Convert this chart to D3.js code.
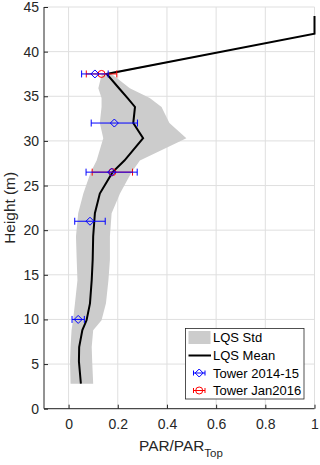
<!DOCTYPE html>
<html lang="en">
<head>
  <meta charset="UTF-8">
  <title>PAR profile</title>
  <style>
    body { margin: 0; background: #fff; font-family: Arial, 'Liberation Sans', sans-serif; }
  </style>
  <script src="https://d3js.org/d3.v7.min.js"></script>
</head>
<body>
<script>
  // LQS profile (height in m, PAR/PAR_top mean and the std envelope)
  const heights = [2.8, 5.3, 6.9, 8.8, 9.9, 11.8, 14.4, 16.7, 19.3, 21.9, 24.1, 26.5, 27.8, 30.3, 32.0, 33.8, 34.8, 35.9, 37.5, 42, 44];
  const lqsMean = [0.050, 0.042, 0.043, 0.056, 0.073, 0.087, 0.094, 0.098, 0.100, 0.107, 0.127, 0.179, 0.227, 0.303, 0.263, 0.270, 0.240, 0.205, 0.155, 1.0, 1.0];
  const lqsLow  = [0.008, 0.006, 0.008, 0.012, 0.018, 0.026, 0.036, 0.033, 0.030, 0.039, 0.060, 0.090, 0.114, 0.141, 0.127, 0.134, 0.134, 0.121, 0.135, 1.0, 1.0];
  const lqsHigh = [0.100, 0.096, 0.094, 0.100, 0.134, 0.152, 0.162, 0.168, 0.168, 0.175, 0.209, 0.256, 0.290, 0.479, 0.410, 0.378, 0.330, 0.249, 0.175, 1.0, 1.0];

  // tower measurements
  const towerHeights = [37.5, 32, 26.5, 21, 10];
  const towerMean = [0.107, 0.186, 0.175, 0.087, 0.039];
  const towerErr  = [0.054, 0.094, 0.104, 0.062, 0.025];

  const janHeights = [37.5, 26.5];
  const janMean = [0.134, 0.178];
  const janErr  = [0.062, 0.082];

  const xTicks = [0, 0.2, 0.4, 0.6, 0.8, 1];
  const yTicks = [0, 5, 10, 15, 20, 25, 30, 35, 40, 45];
  const legendLabels = ["LQS Std", "LQS Mean", "Tower 2014-15", "Tower Jan2016"];

  const W = 320, H = 465;
  const axisColor = "#262626";

  const svg = d3.select("body").append("svg")
    .attr("width", W)
    .attr("height", H);

  const x = d3.scaleLinear().domain([-0.1, 1]).range([44, 314.5]);
  const y = d3.scaleLinear().domain([0, 45]).range([408.7, 7]);

  // grid
  svg.append("g").selectAll("line.gx")
    .data(xTicks).enter().append("line")
    .attr("x1", d => x(d)).attr("x2", d => x(d))
    .attr("y1", y(0)).attr("y2", y(45))
    .attr("stroke", "#dfdfdf").attr("stroke-width", 1);
  svg.append("g").selectAll("line.gy")
    .data(yTicks).enter().append("line")
    .attr("x1", x(-0.1)).attr("x2", x(1))
    .attr("y1", d => y(d)).attr("y2", d => y(d))
    .attr("stroke", "#dfdfdf").attr("stroke-width", 1);

  const rows = heights.map((h, i) => ({ h: h, m: lqsMean[i], lo: lqsLow[i], hi: lqsHigh[i] }));

  // std band
  const area = d3.area()
    .y(d => y(d.h))
    .x0(d => x(d.lo))
    .x1(d => x(d.hi));
  svg.append("path")
    .datum(rows)
    .attr("d", area)
    .attr("fill", "#cccccc");

  // mean line
  const line = d3.line().x(d => x(d.m)).y(d => y(d.h));
  svg.append("path")
    .datum(rows)
    .attr("d", line)
    .attr("fill", "none")
    .attr("stroke", "#000")
    .attr("stroke-width", 2);

  // error bars
  function errorBars(hs, ms, es, color, marker) {
    const g = svg.append("g");
    const pts = hs.map((h, i) => ({ h: h, m: ms[i], e: es[i] }));
    const cap = 3.5;
    pts.forEach(d => {
      const yy = y(d.h), xl = x(d.m - d.e), xr = x(d.m + d.e);
      g.append("line").attr("x1", xl).attr("x2", xr).attr("y1", yy).attr("y2", yy)
        .attr("stroke", color).attr("stroke-width", 1);
      [xl, xr].forEach(xc => {
        g.append("line").attr("x1", xc).attr("x2", xc).attr("y1", yy - cap).attr("y2", yy + cap)
          .attr("stroke", color).attr("stroke-width", 1);
      });
      drawMarker(g, x(d.m), yy, color, marker);
    });
  }

  function drawMarker(g, cx, cy, color, marker) {
    if (marker === "diamond") {
      g.append("path")
        .attr("d", `M${cx - 4},${cy} L${cx},${cy - 4} L${cx + 4},${cy} L${cx},${cy + 4} Z`)
        .attr("fill", "none").attr("stroke", color).attr("stroke-width", 1);
    } else {
      g.append("circle").attr("cx", cx).attr("cy", cy).attr("r", 3.5)
        .attr("fill", "none").attr("stroke", color).attr("stroke-width", 1);
    }
  }

  // red below blue, as in the picture
  errorBars(janHeights, janMean, janErr, "#ff0000", "circle");
  errorBars(towerHeights, towerMean, towerErr, "#0000ff", "diamond");

  // axes
  const xAxis = d3.axisBottom(x).tickValues(xTicks).tickSize(-4).tickPadding(10)
    .tickFormat(d => d === 0 || d === 1 ? d3.format("d")(d) : d3.format(".1f")(d));
  const gx = svg.append("g").attr("transform", `translate(0,${y(0)})`).call(xAxis);
  const yAxis = d3.axisLeft(y).tickValues(yTicks).tickSize(-4).tickPadding(6);
  const gy = svg.append("g").attr("transform", `translate(${x(-0.1)},0)`).call(yAxis);

  [gx, gy].forEach(g => {
    g.select(".domain").attr("stroke", axisColor).attr("stroke-width", 1);
    g.selectAll(".tick line").attr("stroke", axisColor);
    g.selectAll(".tick text").attr("fill", axisColor)
      .style("font-family", "Arial, 'Liberation Sans', sans-serif")
      .style("font-size", "14px");
  });
  gx.select(".domain").attr("d", `M${x(-0.1)},0H${x(1)}`);
  gy.select(".domain").attr("d", `M0,${y(0)}V${y(45)}`);
  gy.selectAll(".tick text").attr("x", -5);

  // axis labels
  svg.append("text")
    .attr("transform", `translate(15,${(y(0) + y(45)) / 2}) rotate(-90)`)
    .attr("text-anchor", "middle")
    .attr("fill", axisColor)
    .style("font-size", "15.4px")
    .text("Height (m)");

  const xl = svg.append("text")
    .attr("x", 181).attr("y", 451)
    .attr("text-anchor", "middle")
    .attr("fill", axisColor)
    .style("font-size", "15.4px");
  xl.append("tspan").text("PAR/PAR");
  xl.append("tspan").attr("dy", 6).style("font-size", "11.5px").text("Top");

  // legend
  const lg = svg.append("g");
  lg.append("rect")
    .attr("x", 185.5).attr("y", 328.5).attr("width", 118.5).attr("height", 70.5)
    .attr("fill", "#fff").attr("stroke", axisColor).attr("stroke-width", 0.8);
  const ly = [337.5, 355.5, 373, 390.5];
  lg.append("rect").attr("x", 188.5).attr("y", ly[0] - 6.5).attr("width", 22).attr("height", 13)
    .attr("fill", "#cccccc");
  lg.append("line").attr("x1", 188.5).attr("x2", 211).attr("y1", ly[1]).attr("y2", ly[1])
    .attr("stroke", "#000").attr("stroke-width", 2);
  [[ly[2], "#0000ff", "diamond"], [ly[3], "#ff0000", "circle"]].forEach(([yy, c, m]) => {
    lg.append("line").attr("x1", 193.5).attr("x2", 205).attr("y1", yy).attr("y2", yy)
      .attr("stroke", c).attr("stroke-width", 1);
    [193.5, 205].forEach(xc => lg.append("line").attr("x1", xc).attr("x2", xc)
      .attr("y1", yy - 2.5).attr("y2", yy + 2.5).attr("stroke", c).attr("stroke-width", 1));
    drawMarker(lg, 199.2, yy, c, m);
  });
  lg.selectAll("text.lbl")
    .data(legendLabels).enter().append("text")
    .attr("x", 213).attr("y", (d, i) => ly[i] + 4.8)
    .attr("fill", "#000")
    .style("font-size", "13px")
    .text(d => d);
</script>
</body>
</html>
